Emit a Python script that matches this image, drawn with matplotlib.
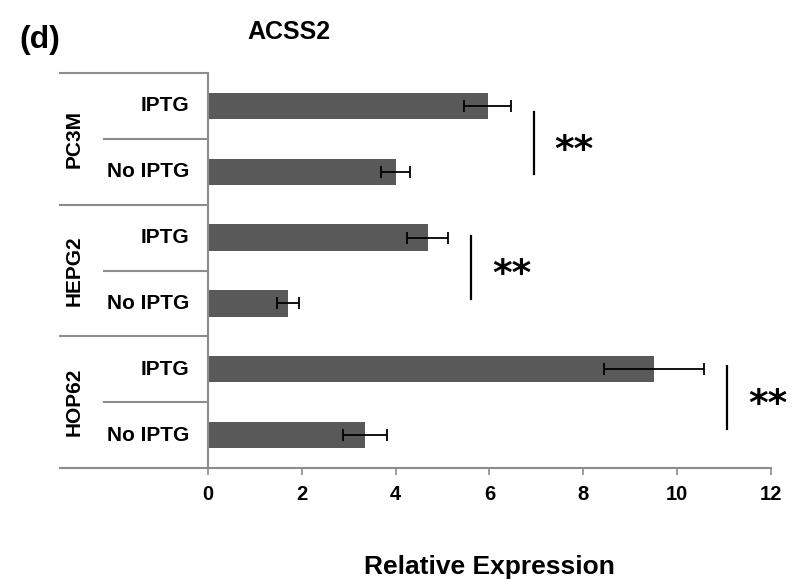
import matplotlib.pyplot as plt
import numpy as np

plt.rcParams['font.family'] = ['Liberation Sans', 'DejaVu Sans']
plt.rcParams['font.weight'] = 'bold'

# data (bottom to top)
groups = ['HOP62', 'HEPG2', 'PC3M']
conditions = ['No IPTG', 'IPTG']
values = [3.35, 9.5, 1.71, 4.68, 4.0, 5.96]
errors = [0.47, 1.07, 0.24, 0.43, 0.31, 0.5]
# significance brackets: x position, y range (in category units)
sig_x = [11.07, 5.6, 6.94]
sig_lo = [0.09, 2.07, 3.97]
sig_hi = [1.05, 3.03, 4.91]
sig_labels = ['**', '**', '**']

gray = '#8c8c8c'

fig = plt.figure(figsize=(7.92, 5.84), dpi=100)
ax = fig.add_axes([0.2626, 0.1986, 0.7109, 0.6764])

y = np.arange(len(values))
ax.barh(y, values, height=0.4, color='#595959', zorder=2)
ax.errorbar(values, y, xerr=errors, fmt='none', ecolor='black',
            elinewidth=1.3, capsize=4.3, capthick=1.3, zorder=3)

ax.set_xlim(0, 12)
ax.set_ylim(-0.5, len(values) - 0.5)
ax.set_xticks(np.arange(0, 13, 2))
ax.tick_params(axis='x', length=5, width=1.2, color=gray, labelsize=14.5, pad=7)
ax.set_yticks([])
for s in ['top', 'right']:
    ax.spines[s].set_visible(False)
for s in ['left', 'bottom']:
    ax.spines[s].set_color(gray)
    ax.spines[s].set_linewidth(1.5)
for lab in ax.get_xticklabels():
    lab.set_fontweight('bold')

# category labels and separators on the left
tr = ax.get_yaxis_transform()
for i, yy in enumerate(y):
    ax.text(-0.034, yy, conditions[i % 2], transform=tr, ha='right', va='center',
            fontsize=15, fontweight='bold')
for k in range(len(groups) + 1):
    yb = k * 2 - 0.5
    ax.plot([-0.263, 0], [yb, yb], transform=tr, color=gray, lw=1.5, clip_on=False)
for k, g in enumerate(groups):
    ax.plot([-0.185, 0], [k * 2 + 0.5] * 2, transform=tr, color=gray, lw=1.5, clip_on=False)
    ax.text(-0.237, k * 2 + 0.5, g, transform=tr, rotation=90, ha='center', va='center',
            fontsize=15, fontweight='bold')

# significance marks
for xs, lo, hi, lab in zip(sig_x, sig_lo, sig_hi, sig_labels):
    ax.plot([xs, xs], [lo, hi], color='black', lw=1.6, clip_on=False)
    ax.text(xs + 0.45, (lo + hi) / 2 - 0.12, lab, ha='left', va='center', fontsize=27,
            fontweight='bold', family='DejaVu Sans', clip_on=False)

ax.set_xlabel('Relative Expression', fontsize=19, fontweight='bold', labelpad=37)
fig.text(0.025, 0.932, '(d)', fontsize=23, fontweight='bold', va='center')
fig.text(0.365, 0.945, 'ACSS2', fontsize=18, fontweight='bold', va='center', ha='center')

fig.savefig('out.png', dpi=100)
